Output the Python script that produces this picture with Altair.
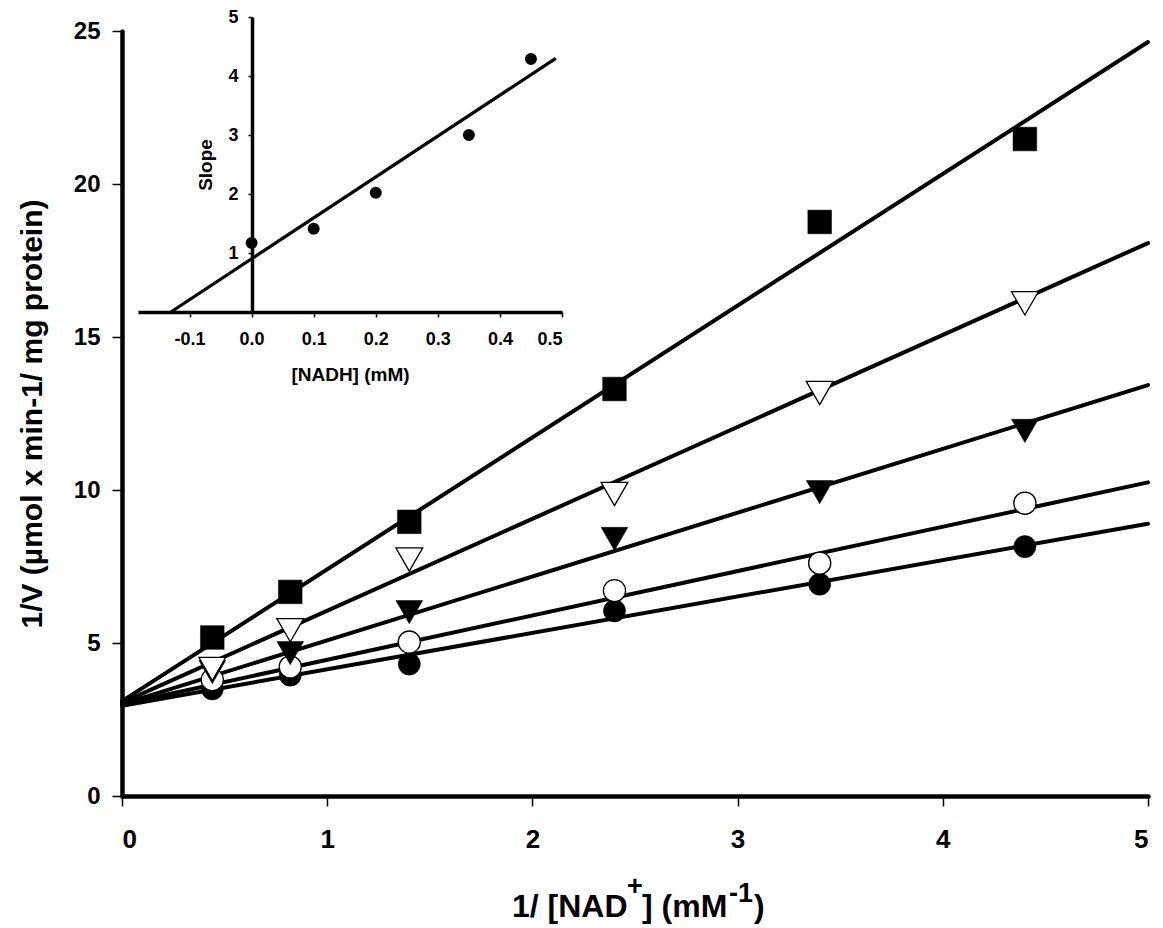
import altair as alt
import pandas as pd

FONT = "Liberation Sans"

# ---- main plot data (1/[NAD+] in mM^-1 vs 1/V) ----
x_inv_nad = [0.44, 0.82, 1.4, 2.4, 3.4, 4.4]
y_filled_circle = [3.5, 3.95, 4.31, 6.05, 6.92, 8.15]
y_open_circle = [3.8, 4.22, 5.03, 6.71, 7.61, 9.57]
y_filled_tri = [4.05, 4.67, 6.01, 8.4, 9.93, 11.93]
y_open_tri = [4.15, 5.42, 7.73, 9.87, 13.17, 16.1]
y_square = [5.18, 6.67, 8.96, 13.3, 18.76, 21.47]

# fitted lines (end points)
line_x = [0, 5]
line_filled_circle = [2.95, 8.9]
line_open_circle = [3.0, 10.25]
line_filled_tri = [3.0, 13.43]
line_open_tri = [3.05, 18.07]
line_square = [3.1, 24.64]

# ---- inset data ([NADH] vs slope) ----
inset_x = [0.0, 0.1, 0.2, 0.35, 0.45]
inset_slope = [1.17, 1.41, 2.02, 3.0, 4.29]
inset_line_x = [-0.13, 0.49]
inset_line_y = [0.0, 4.3]

x_ticks = [0, 1, 2, 3, 4, 5]
y_ticks = [0, 5, 10, 15, 20, 25]
inset_x_ticks = [-0.1, 0.0, 0.1, 0.2, 0.3, 0.4, 0.5]
inset_y_ticks = [1, 2, 3, 4, 5]

# x-axis title pieces: normal / superscript / normal / superscript / normal
x_title_pieces = ["1/ [NAD", "+", "] (mM", "-1", ")"]
y_title = "1/V (µmol x min-1/ mg protein)"

W, H = 1026, 765

series = {
    "filled_circle": y_filled_circle,
    "open_circle": y_open_circle,
    "filled_tri": y_filled_tri,
    "open_tri": y_open_tri,
    "square": y_square,
}
lines = {
    "filled_circle": line_filled_circle,
    "open_circle": line_open_circle,
    "filled_tri": line_filled_tri,
    "open_tri": line_open_tri,
    "square": line_square,
}

line_df = pd.DataFrame(
    [{"s": k, "x": xx, "y": yy} for k, v in lines.items() for xx, yy in zip(line_x, v)]
)

x_axis = alt.Axis(
    values=x_ticks, format="d", grid=False,
    domainColor="black", domainWidth=4.5, domainCap="round",
    tickColor="black", tickWidth=1.5, tickSize=10,
    labelFont=FONT, labelFontSize=26, labelFontWeight="bold", labelColor="black",
    labelPadding=20, title=None,
)
y_axis = alt.Axis(
    values=y_ticks, format="d", grid=False,
    domainColor="black", domainWidth=4.5, domainCap="round",
    tickColor="black", tickWidth=1.5, tickSize=10,
    labelFont=FONT, labelFontSize=24, labelFontWeight="bold", labelColor="black",
    labelPadding=12,
    title=y_title, titleFont=FONT, titleFontSize=30,
    titleFontWeight="bold", titleColor="black", titleX=-90, titleBaseline="middle",
)
xs = alt.Scale(domain=[0, 5], nice=False, zero=False)
ys = alt.Scale(domain=[0, 25], nice=False, zero=False)

X = alt.X("x:Q", scale=xs, axis=x_axis)
Y = alt.Y("y:Q", scale=ys, axis=y_axis)

main_lines = alt.Chart(line_df).mark_line(
    color="black", strokeWidth=4, strokeCap="round"
).encode(x=X, y=Y, detail="s:N")

styles = {
    "filled_circle": dict(shape="circle", fill="black", stroke="black", strokeWidth=0.5, size=490),
    "open_circle": dict(shape="circle", fill="white", stroke="black", strokeWidth=1.3, size=490),
    "filled_tri": dict(shape="triangle-down", fill="black", stroke="black", strokeWidth=0.5, size=720),
    "open_tri": dict(shape="triangle-down", fill="white", stroke="black", strokeWidth=1.3, size=720),
    "square": dict(shape="square", fill="black", stroke="black", strokeWidth=0.5, size=560),
}
point_layers = []
for k, vals in series.items():
    df = pd.DataFrame({"x": x_inv_nad, "y": vals})
    point_layers.append(
        alt.Chart(df).mark_point(filled=True, opacity=1, **styles[k]).encode(x=X, y=Y)
    )

# composed x-axis title with real superscripts
title_layout = [  # (x, y, fontSize) in plot coordinates
    (390, 886, 32),
    (505, 864, 27),
    (520, 886, 32),
    (607, 871, 27),
    (632, 886, 32),
]
title_layers = []
for piece, (tx, ty, fs) in zip(x_title_pieces, title_layout):
    title_layers.append(
        alt.Chart(pd.DataFrame({"t": [piece]})).mark_text(
            font=FONT, fontWeight="bold", fontSize=fs, color="black",
            align="left", baseline="alphabetic",
        ).encode(x=alt.value(tx), y=alt.value(ty), text="t:N")
    )

main = alt.layer(main_lines, *point_layers, *title_layers)

# ---- inset ----
ix_axis = alt.Axis(
    orient="bottom", offset=-484, values=inset_x_ticks, grid=False,
    labelExpr="replace(format(datum.value, '.1f'), '\u2212', '-')",
    domainColor="black", domainWidth=3.5,
    tickColor="black", tickWidth=1.5, tickSize=5,
    labelFont=FONT, labelFontSize=18, labelFontWeight="bold", labelColor="black",
    labelPadding=13,
    title="[NADH] (mM)", titleFont=FONT, titleFontSize=19, titleFontWeight="bold",
    titleColor="black", titleY=68, titleBaseline="alphabetic",
)
iy_axis = alt.Axis(
    orient="left", offset=-130, values=inset_y_ticks, format="d", grid=False,
    domainColor="black", domainWidth=3.5,
    tickColor="black", tickWidth=1.5, tickSize=4,
    labelFont=FONT, labelFontSize=18, labelFontWeight="bold", labelColor="black",
    labelPadding=10,
    title="Slope", titleFont=FONT, titleFontSize=19, titleFontWeight="bold",
    titleColor="black", titleX=-47, titleBaseline="middle",
)
ixs = alt.Scale(domain=[-0.183, 0.5], range=[16, 440], nice=False, zero=False)
iys = alt.Scale(domain=[0, 5], range=[281, -14], nice=False, zero=False)
IX = alt.X("x:Q", scale=ixs, axis=ix_axis)
IY = alt.Y("y:Q", scale=iys, axis=iy_axis)

inset_line = alt.Chart(pd.DataFrame({"x": inset_line_x, "y": inset_line_y})).mark_line(
    color="black", strokeWidth=3.2
).encode(x=IX, y=IY)
inset_pts = alt.Chart(pd.DataFrame({"x": inset_x, "y": inset_slope})).mark_point(
    shape="circle", filled=True, fill="black", stroke="black", size=100, opacity=1
).encode(x=IX, y=IY)
inset = alt.layer(inset_line, inset_pts)

chart = (
    alt.layer(main, inset)
    .resolve_scale(x="independent", y="independent")
    .properties(
        width=W, height=H,
        autosize=alt.AutoSizeParams(type="none"),
        padding={"left": 122, "top": 31, "right": 15, "bottom": 132},
        background="white",
    )
    .configure_view(stroke=None)
)

chart.save("out.html", embed_options={"renderer": "svg", "actions": False})
